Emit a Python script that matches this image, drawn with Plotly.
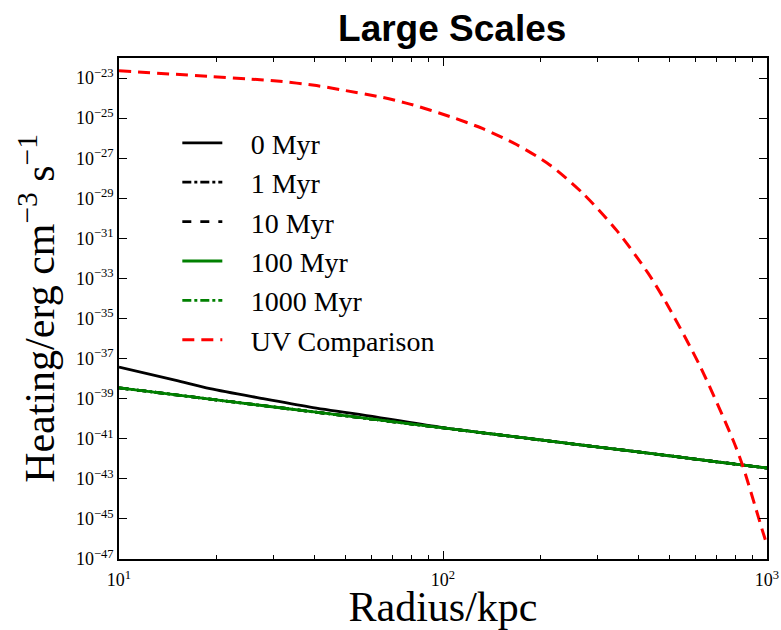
import plotly.graph_objects as go

# ---- data ----
radius_kpc = [10, 15, 19.1, 27.2, 38.9, 62.4, 100, 200, 400, 700, 1000]
heat_0myr = [3.8e-38, 8.1e-39, 3.16e-39, 1.07e-39, 3.8e-40, 1.2e-40, 3.6e-41, 8.7e-42, 2.2e-42, 7.1e-43, 3.47e-43]
heat_1myr = [3.47e-39, 1.55e-39, 9.5e-40, 4.7e-40, 2.3e-40, 8.9e-41, 3.47e-41, 8.7e-42, 2.2e-42, 7.1e-43, 3.47e-43]
heat_10myr = heat_1myr
heat_100myr = heat_1myr
heat_1000myr = heat_1myr

uv_radius = [10, 19.1, 25.4, 30.7, 40.7, 49.1, 65.3, 79.1, 105, 132.8, 168.6, 213.6, 270,
             343.5, 430, 490, 621, 785, 843, 973, 1000]
uv_heat = [2.29e-23, 1.2e-23, 8.9e-24, 7.1e-24, 4.2e-24, 2.5e-24, 1.07e-24, 5.0e-25, 1.2e-25,
           2.95e-26, 4.8e-27, 4.6e-28, 1.78e-29, 2.5e-31, 1.78e-33, 5.6e-35, 4.3e-38, 8.9e-42,
           4.1e-43, 2.0e-46, 5.0e-47]

y_tick_exps = list(range(-47, -22, 2))
x_tick_exps = [1, 2, 3]
x_minor = [m * 10 ** e for e in (1, 2) for m in range(2, 10)]

serif = "Liberation Serif, DejaVu Serif, serif"
pad = "\u2002\u2004"  # visual gap between legend line sample and its label

fig = go.Figure()
series = [
    ("0 Myr", heat_0myr, "black", "solid"),
    ("1 Myr", heat_1myr, "black", "dashdot"),
    ("10 Myr", heat_10myr, "black", "dash"),
    ("100 Myr", heat_100myr, "green", "solid"),
    ("1000 Myr", heat_1000myr, "green", "dashdot"),
]
for name, vals, col, dash in series:
    fig.add_trace(go.Scatter(x=radius_kpc, y=vals, mode="lines", name=pad + name,
                             line=dict(color=col, width=2.8, dash=dash, shape="spline", smoothing=0.8)))
fig.add_trace(go.Scatter(x=uv_radius, y=uv_heat, mode="lines", name=pad + "UV Comparison",
                         line=dict(color="red", width=3, dash="12px,7px", shape="spline", smoothing=0.8)))

fig.update_layout(
    width=781, height=630,
    margin=dict(l=119, r=14, t=58, b=71),
    plot_bgcolor="white", paper_bgcolor="white",
    title=dict(text="<b>Large Scales</b>", x=0.579, xanchor="center", y=0.956, yanchor="middle",
               font=dict(family="Liberation Sans, Arial, sans-serif", size=37, color="black")),
    legend=dict(x=0.09, y=0.88, xanchor="left", yanchor="top", bgcolor="rgba(0,0,0,0)",
                font=dict(family=serif, size=28, color="black"), itemwidth=40,
                tracegroupgap=0),
    showlegend=True,
)
fig.update_xaxes(
    type="log", range=[1, 3], automargin=False,
    tickvals=[10 ** e for e in x_tick_exps],
    ticktext=[f"10<sup>{e}</sup>" for e in x_tick_exps],
    ticks="inside", ticklen=8, tickwidth=1, tickcolor="black", ticklabelstandoff=4,
    minor=dict(tickvals=x_minor, ticks="inside", ticklen=4, tickcolor="black"),
    showline=True, linecolor="black", linewidth=1.5, mirror="allticks",
    showgrid=False, zeroline=False,
    tickfont=dict(family=serif, size=18, color="black"),
    title=dict(text="Radius/kpc", font=dict(family=serif, size=42, color="black"), standoff=7),
)
fig.update_yaxes(
    type="log", range=[-47, -22], automargin=False,
    tickvals=[10.0 ** e for e in y_tick_exps],
    ticktext=[f"10<sup>\u2212{-e}</sup>" for e in y_tick_exps],
    ticks="inside", ticklen=8, tickwidth=1, tickcolor="black",
    showline=True, linecolor="black", linewidth=1.5, mirror="allticks",
    showgrid=False, zeroline=False,
    tickfont=dict(family=serif, size=18, color="black"),
    title=dict(text="\u2002Heating/erg cm<sup>\u22123</sup> s<sup>\u22121</sup>",
               font=dict(family=serif, size=42, color="black"), standoff=8),
)

fig.write_html("out.html", config={"displayModeBar": False},
               post_script="document.body.style.margin='0px';")
